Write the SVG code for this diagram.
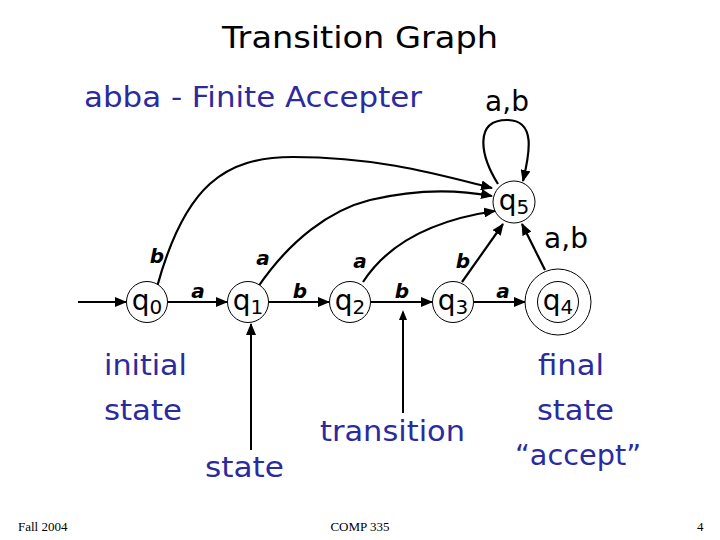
<svg xmlns="http://www.w3.org/2000/svg" width="720" height="540" viewBox="0 0 720 540">
<defs>
<marker id="ah" markerWidth="12" markerHeight="10" refX="11" refY="5" orient="auto" markerUnits="userSpaceOnUse">
<path d="M0,0 L12,5 L0,10 Z" fill="#000"/>
</marker>
<style>
.st{fill:#fff;stroke:#000;stroke-width:1}
.sl{font-family:"DejaVu Sans",sans-serif;font-size:28px;fill:#000}
.sub{font-size:20px}
.el{font-family:"DejaVu Sans",sans-serif;font-size:20px;font-weight:bold;font-style:italic;fill:#000}
.ab{font-family:"DejaVu Sans",sans-serif;font-size:28px;fill:#000}
.e{fill:none;stroke:#000;stroke-width:2.2;marker-end:url(#ah)}
.blue{font-family:"DejaVu Sans",sans-serif;font-size:28px;fill:#2b2b9e}
.foot{font-family:"Liberation Serif",serif;font-size:13px;fill:#000}
</style>
</defs>
<rect width="720" height="540" fill="#fff"/>
<text x="360" y="48" text-anchor="middle" font-family="DejaVu Sans,sans-serif" font-size="31" textLength="276" lengthAdjust="spacingAndGlyphs">Transition Graph</text>
<text x="84" y="107" class="blue" textLength="338" lengthAdjust="spacingAndGlyphs">abba - Finite Accepter</text>

<g id="connectors">
<path class="e" d="M78,302 L126,302"/>
<path class="e" d="M168,302 L227,302"/>
<path class="e" d="M269,302 L329,302"/>
<path class="e" d="M371,302 L432,302"/>
<path class="e" d="M474,302 L525,302"/>
<path class="e" d="M157,287 C185,185 225,157 293,157 C380,157 440,175 492,188"/>
<path class="e" d="M258,287 C290,240 330,210 370,200 C420,188 460,190 492,196"/>
<path class="e" d="M363,282 Q400,225 495,211"/>
<path class="e" d="M462,282 L503,224"/>
<path class="e" d="M545,270 L522,224"/>
<path class="e" d="M498,184 C480,155 474,120 507,120 C536,120 530,152 523,181"/>
<path class="e" d="M251,450 L251,324" style="stroke-width:2"/>
<path class="e" d="M403,413 L403,312" style="stroke-width:2;marker-end:none"/>
<path d="M399,320 L403,310 L407,320 Z" fill="#000"/>
</g>

<g id="q0"><circle class="st" cx="147" cy="302" r="20.5"/><text class="sl" x="147" y="310" text-anchor="middle">q<tspan class="sub" dy="4">0</tspan></text></g>
<g id="q1"><circle class="st" cx="248" cy="302" r="20.5"/><text class="sl" x="248" y="310" text-anchor="middle">q<tspan class="sub" dy="4">1</tspan></text></g>
<g id="q2"><circle class="st" cx="350" cy="302" r="20.5"/><text class="sl" x="350" y="310" text-anchor="middle">q<tspan class="sub" dy="4">2</tspan></text></g>
<g id="q3"><circle class="st" cx="453" cy="302" r="20.5"/><text class="sl" x="453" y="310" text-anchor="middle">q<tspan class="sub" dy="4">3</tspan></text></g>
<g id="q4"><circle class="st" cx="558" cy="302" r="33"/><circle class="st" cx="558" cy="302" r="20.5"/><text class="sl" x="558" y="310" text-anchor="middle">q<tspan class="sub" dy="4">4</tspan></text></g>
<g id="q5"><circle class="st" cx="514" cy="202" r="21"/><text class="sl" x="514" y="210" text-anchor="middle">q<tspan class="sub" dy="4">5</tspan></text></g>

<g id="edge-labels">
<text class="el" x="198" y="298" text-anchor="middle">a</text>
<text class="el" x="300" y="298" text-anchor="middle">b</text>
<text class="el" x="402" y="298" text-anchor="middle">b</text>
<text class="el" x="503" y="298" text-anchor="middle">a</text>
<text class="el" x="157" y="263" text-anchor="middle">b</text>
<text class="el" x="263" y="265" text-anchor="middle">a</text>
<text class="el" x="360" y="268" text-anchor="middle">a</text>
<text class="el" x="463" y="268" text-anchor="middle">b</text>
<text class="ab" x="507" y="111" text-anchor="middle">a,b</text>
<text class="ab" x="566" y="248" text-anchor="middle">a,b</text>
</g>

<g id="annotations">
<text class="blue" x="104" y="375" textLength="83" lengthAdjust="spacingAndGlyphs">initial</text>
<text class="blue" x="104" y="420" textLength="78" lengthAdjust="spacingAndGlyphs">state</text>
<text class="blue" x="205" y="477" textLength="79" lengthAdjust="spacingAndGlyphs">state</text>
<text class="blue" x="320" y="441" textLength="145" lengthAdjust="spacingAndGlyphs">transition</text>
<text class="blue" x="538" y="375" textLength="66" lengthAdjust="spacingAndGlyphs">final</text>
<text class="blue" x="537" y="420" textLength="77" lengthAdjust="spacingAndGlyphs">state</text>
<text class="blue" x="515" y="465" textLength="126" lengthAdjust="spacingAndGlyphs">“accept”</text>
</g>

<text class="foot" x="18" y="531">Fall 2004</text>
<text class="foot" x="360" y="531" text-anchor="middle">COMP 335</text>
<text class="foot" x="697" y="531">4</text>
</svg>
